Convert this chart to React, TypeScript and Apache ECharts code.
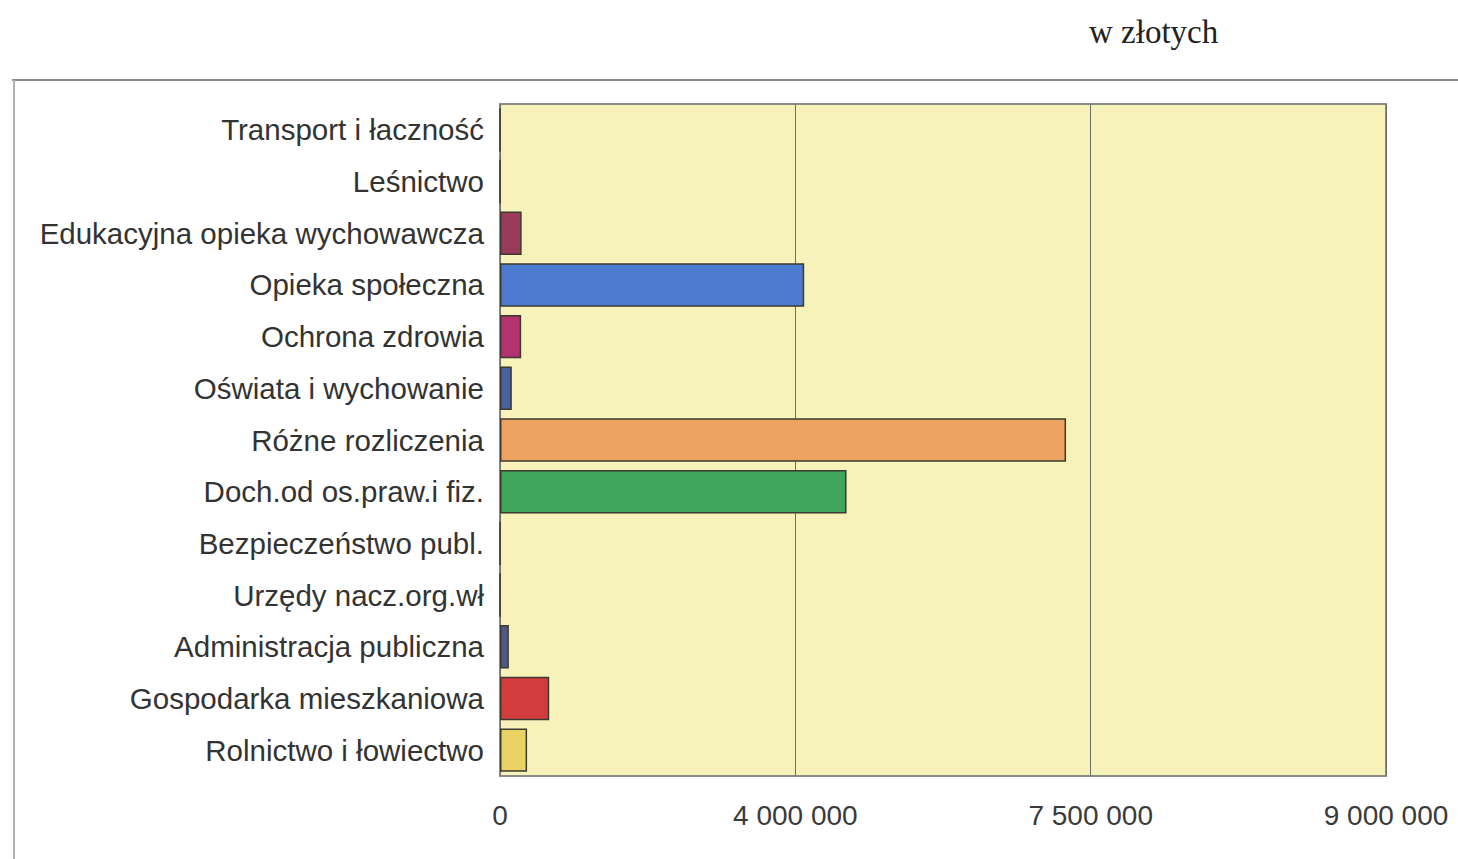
import React, { useEffect, useRef } from "react";
import * as echarts from "echarts";

const categories = [
  "Transport i łaczność",
  "Leśnictwo",
  "Edukacyjna opieka wychowawcza",
  "Opieka społeczna",
  "Ochrona zdrowia",
  "Oświata i wychowanie",
  "Różne rozliczenia",
  "Doch.od os.praw.i fiz.",
  "Bezpieczeństwo publ.",
  "Urzędy nacz.org.wł",
  "Administracja publiczna",
  "Gospodarka mieszkaniowa",
  "Rolnictwo i łowiectwo",
];

const values = [0, 0, 220000, 3090000, 215000, 120000, 5750000, 3520000, 0, 0, 90000, 500000, 275000];

const tickLabels = ["0", "4 000 000", "7 500 000", "9 000 000"];

const unitLabel = "w złotych";

const barColors = [
  "#9a3b5c",
  "#9a3b5c",
  "#9a3b5c",
  "#4d7bd2",
  "#b2336e",
  "#4b5f9c",
  "#eea260",
  "#3ea55b",
  "#505a80",
  "#505a80",
  "#4f5a82",
  "#d23c3c",
  "#e9d262",
];

export default function App() {
  const ref = useRef<HTMLDivElement>(null);

  useEffect(() => {
    if (!ref.current) return;
    const chart = echarts.init(ref.current, null, { renderer: "svg" });
    chart.setOption({
      animation: false,
      backgroundColor: "#ffffff",
      grid: {
        left: 500,
        right: 72,
        top: 104,
        bottom: 83,
        show: true,
        backgroundColor: "#f7f2b9",
        borderColor: "#8c8c82",
        borderWidth: 2,
      },
      graphic: [
        {
          type: "text",
          left: 1089,
          top: 15,
          style: {
            text: unitLabel,
            font: "33px 'Liberation Serif', serif",
            fill: "#222222",
          },
        },
        {
          type: "line",
          shape: { x1: 12, y1: 80, x2: 1458, y2: 80 },
          style: { stroke: "#8a8a8a", lineWidth: 2 },
        },
        {
          type: "line",
          shape: { x1: 14, y1: 80, x2: 14, y2: 859 },
          style: { stroke: "#b0b0b0", lineWidth: 2 },
        },
      ],
      xAxis: {
        type: "value",
        min: 0,
        max: 9000000,
        interval: 3000000,
        axisLine: { show: false },
        axisTick: { show: false },
        splitLine: { show: true, lineStyle: { color: "#6f6f66", width: 1 } },
        axisLabel: {
          margin: 25,
          fontFamily: "'Liberation Sans', Arial, sans-serif",
          fontSize: 28,
          color: "#3a3a3a",
          formatter: (_v: number, i: number) => tickLabels[i] ?? "",
        },
      },
      yAxis: {
        type: "category",
        inverse: true,
        data: categories,
        axisLine: { show: false },
        axisTick: { show: false },
        axisLabel: {
          margin: 16,
          fontFamily: "'Liberation Sans', Arial, sans-serif",
          fontSize: 29.5,
          color: "#333333",
        },
      },
      series: [
        {
          type: "bar",
          barCategoryGap: "16%",
          data: values.map((v, i) => ({
            value: v,
            itemStyle: {
              color: barColors[i],
              borderColor: "#3a3a30",
              borderWidth: 1.5,
            },
          })),
        },
      ],
    });
    return () => chart.dispose();
  }, []);

  return (
    <div
      ref={ref}
      style={{ position: "fixed", left: 0, top: 0, width: 1458, height: 859 }}
    />
  );
}
